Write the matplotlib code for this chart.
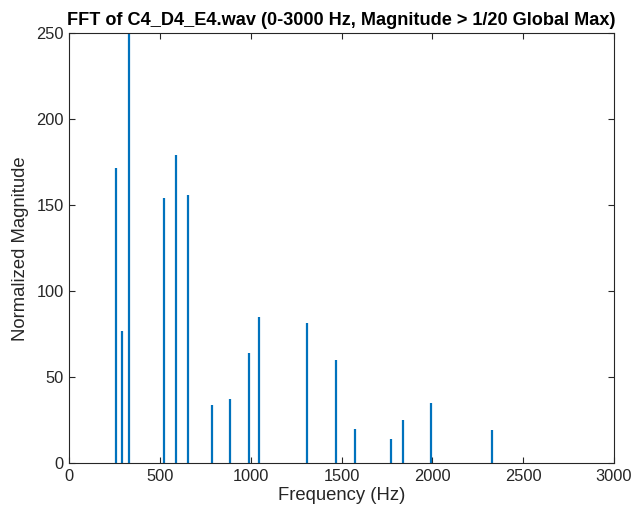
import matplotlib
matplotlib.use("Agg")
import matplotlib.pyplot as plt

freqs = [257, 292, 329, 523, 586, 655, 784, 883, 988, 1045, 1309, 1469, 1576, 1771, 1840, 1992, 2327]
mags = [171.5, 77.1, 250, 154.1, 179.4, 156.2, 33.9, 37.2, 64.1, 85.1, 81.8, 59.9, 19.9, 14.3, 25.0, 34.9, 19.5]
xticks = [0, 500, 1000, 1500, 2000, 2500, 3000]
yticks = [0, 50, 100, 150, 200, 250]

plt.rcParams['font.family'] = ['Liberation Sans', 'DejaVu Sans']
fig = plt.figure(figsize=(6.31, 5.16), dpi=100)
ax = fig.add_axes([69.3/631, 1-463.3/516, (613.7-69.3)/631, (463.3-33.3)/516])

ax.vlines(freqs, 0, mags, colors='#0072BD', linewidth=1.6)
ax.set_xlim(0, 3000)
ax.set_ylim(0, 250)
ax.set_xticks(xticks)
ax.set_yticks(yticks)
axc = '#262626'
for s in ax.spines.values():
    s.set_color(axc)
    s.set_linewidth(0.8)
ax.tick_params(direction='in', top=True, right=True, length=4, width=0.8,
               colors=axc, labelsize=11.8, pad=4)
ax.set_xlabel('Frequency (Hz)', fontsize=13.3, color=axc, labelpad=2)
ax.set_ylabel('Normalized Magnitude', fontsize=13.3, color=axc, labelpad=5)
ax.set_title('FFT of C4_D4_E4.wav (0-3000 Hz, Magnitude > 1/20 Global Max)',
             fontsize=13.1, fontweight='bold', color='black', pad=6)
fig.savefig('out.png', dpi=100)
